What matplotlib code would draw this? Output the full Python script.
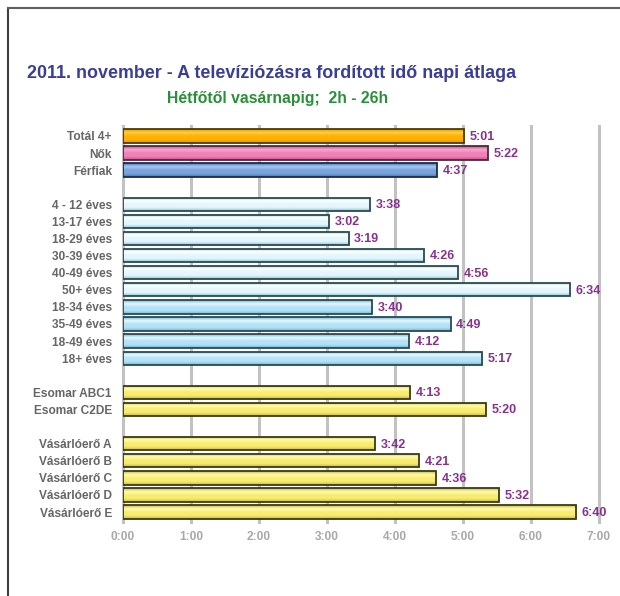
import numpy as np
import matplotlib.pyplot as plt
from matplotlib.colors import LinearSegmentedColormap, to_rgb

plt.rcParams['font.family'] = ['Liberation Sans', 'DejaVu Sans']

# Adatok (perc)
categories = ['Totál 4+', 'Nők', 'Férfiak', None,
              '4 - 12 éves', '13-17 éves', '18-29 éves', '30-39 éves', '40-49 éves',
              '50+ éves', '18-34 éves', '35-49 éves', '18-49 éves', '18+ éves', None,
              'Esomar ABC1', 'Esomar C2DE', None,
              'Vásárlóerő A', 'Vásárlóerő B', 'Vásárlóerő C', 'Vásárlóerő D', 'Vásárlóerő E']
value_labels = ['5:01', '5:22', '4:37', None,
                '3:38', '3:02', '3:19', '4:26', '4:56', '6:34', '3:40', '4:49', '4:12', '5:17', None,
                '4:13', '5:20', None,
                '3:42', '4:21', '4:36', '5:32', '6:40']
tick_labels = ['0:00', '1:00', '2:00', '3:00', '4:00', '5:00', '6:00', '7:00']

orange = ('#e89a00', '#ffd040', '#ffb000')
pink = ('#c8508c', '#f8a8d0', '#f080b8')
blue = ('#4a74b8', '#a8c8f0', '#78a4dc')
cyan1 = ('#8cc8d8', '#ffffff', '#e4f6fc')
cyan2 = ('#70b8d8', '#e8f8ff', '#b4e2f6')
yellow = ('#c8b840', '#fffcb0', '#f8ec70')
colors = [orange, pink, blue, None] + [cyan1] * 6 + [cyan2] * 4 + [None, yellow, yellow, None] + [yellow] * 5
edges = ['#4a3a10', '#4a2a3a', '#1e2a4a', None] + ['#2a4a50'] * 10 + [None, '#3a3a18', '#3a3a18', None] + ['#3a3a18'] * 5


def to_min(s):
    h, m = s.split(':')
    return int(h) * 60 + int(m)


fig = plt.figure(figsize=(6.2, 5.96), dpi=100)
fig.patches.append(plt.Line2D([8 / 620, 8 / 620], [0, 1 - 8 / 596], transform=fig.transFigure,
                              color='#404040', lw=1.5, figure=fig))
fig.patches.append(plt.Line2D([8 / 620, 1], [1 - 8 / 596, 1 - 8 / 596], transform=fig.transFigure,
                              color='#606060', lw=1.5, figure=fig))

ax = fig.add_axes([123 / 620, 1 - 522.3 / 596, 476 / 620, (522.3 - 125.7) / 596])
ax.set_xlim(0, 420)
ax.set_ylim(22.6, -0.6)

for x in range(0, 421, 60):
    ax.axvline(x, color='#c2c2c2', lw=2.2, zorder=0, clip_on=False)

h = 0.78
for i, (cat, lab) in enumerate(zip(categories, value_labels)):
    if cat is None:
        continue
    v = to_min(lab)
    c_dark, c_light, c_mid = colors[i]
    cmap = LinearSegmentedColormap.from_list('g', [to_rgb(c_dark), to_rgb(c_light), to_rgb(c_mid),
                                                   to_rgb(c_mid), to_rgb(c_dark)])
    bar = ax.barh(i, v, height=h, color='none', edgecolor=edges[i], lw=1.3, zorder=3)[0]
    grad = np.linspace(0, 1, 64).reshape(-1, 1)
    im = ax.imshow(grad, cmap=cmap, aspect='auto', extent=(0, v, i + h / 2, i - h / 2),
                   zorder=2, interpolation='bilinear')
    im.set_clip_path(bar)
    ax.text(v + 5, i + 0.05, lab, va='center', ha='left', fontsize=9, fontweight='bold',
            color='#8a3090')

ax.set_xlim(0, 420)
ax.set_ylim(22.6, -0.6)
pos = [i for i, c in enumerate(categories) if c is not None]
ax.set_yticks(pos)
ax.set_yticklabels([categories[i] for i in pos], fontsize=8.6, fontweight='bold', color='#666666')
ax.set_xticks(np.arange(0, 421, 60))
ax.set_xticklabels(tick_labels, fontsize=8.6, fontweight='bold', color='#a8a8a8')
ax.tick_params(length=0, pad=8)
ax.tick_params(axis='x', pad=6)
for s in ax.spines.values():
    s.set_visible(False)

fig.text(27 / 620, 1 - 74 / 596, '2011. november - A televíziózásra fordított idő napi átlaga',
         fontsize=12.9, fontweight='bold', color='#3a3e98', va='center', ha='left')
fig.text(278 / 620, 1 - 98 / 596, 'Hétfőtől vasárnapig;  2h - 26h',
         fontsize=11.3, fontweight='bold', color='#2a9038', va='center', ha='center')

fig.savefig('out.png', dpi=100)
